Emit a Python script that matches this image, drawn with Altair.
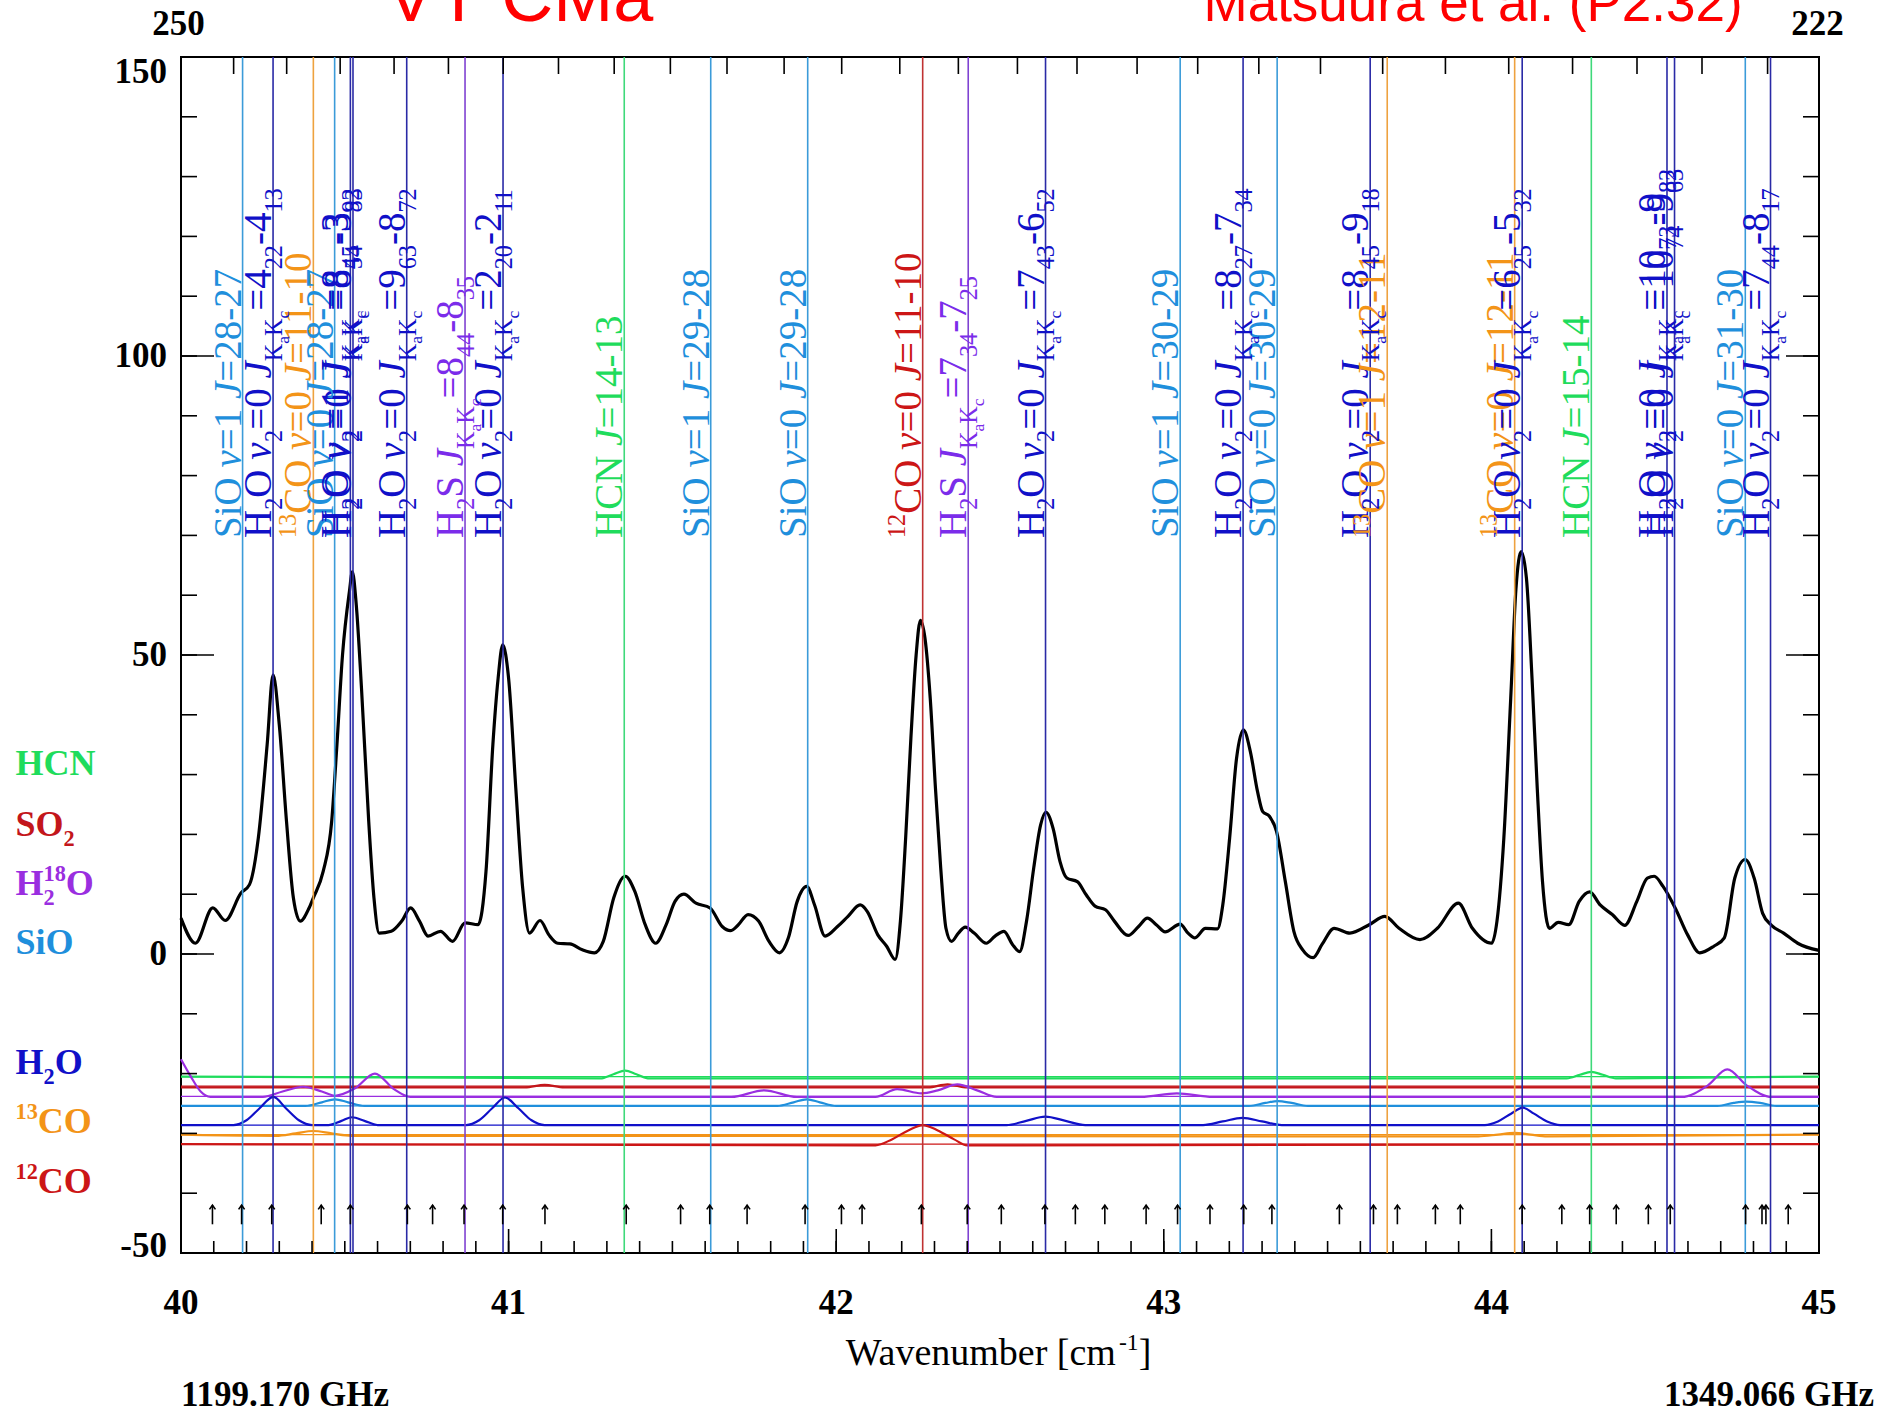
import altair as alt
import pandas as pd

# ---------------- data ----------------
spec_x = [40.000, 40.044, 40.097, 40.135, 40.183, 40.209, 40.236, 40.263, 40.281, 40.300,
          40.322, 40.343, 40.364, 40.391, 40.404, 40.434, 40.460, 40.476, 40.493, 40.514,
          40.523, 40.535, 40.551, 40.573, 40.589, 40.605, 40.642, 40.674, 40.701, 40.728,
          40.754, 40.792, 40.829, 40.867, 40.907, 40.931, 40.952, 40.968, 40.982, 41.000,
          41.022, 41.043, 41.064, 41.096, 41.123, 41.150, 41.187, 41.225, 41.262, 41.289,
          41.321, 41.356, 41.385, 41.417, 41.449, 41.481, 41.508, 41.535, 41.572, 41.615,
          41.652, 41.677, 41.700, 41.731, 41.763, 41.795, 41.827, 41.854, 41.881, 41.910,
          41.934, 41.966, 42.004, 42.036, 42.073, 42.095, 42.127, 42.154, 42.180, 42.196,
          42.212, 42.228, 42.244, 42.257, 42.271, 42.287, 42.303, 42.319, 42.335, 42.352,
          42.373, 42.394, 42.421, 42.458, 42.485, 42.512, 42.538, 42.560, 42.581, 42.603,
          42.624, 42.640, 42.662, 42.683, 42.704, 42.736, 42.763, 42.790, 42.822, 42.849,
          42.891, 42.923, 42.950, 42.977, 43.004, 43.050, 43.074, 43.095, 43.127, 43.164,
          43.180, 43.201, 43.222, 43.243, 43.264, 43.286, 43.302, 43.323, 43.344, 43.371,
          43.397, 43.424, 43.456, 43.483, 43.520, 43.568, 43.627, 43.675, 43.718, 43.782,
          43.835, 43.899, 43.942, 44.001, 44.017, 44.038, 44.059, 44.075, 44.091, 44.107,
          44.124, 44.140, 44.156, 44.177, 44.204, 44.236, 44.268, 44.300, 44.332, 44.369,
          44.407, 44.444, 44.476, 44.497, 44.524, 44.561, 44.599, 44.636, 44.679, 44.711,
          44.743, 44.775, 44.802, 44.828, 44.855, 44.892, 44.935, 45.000]
spec_y = [6.0, 1.8, 7.7, 5.6, 10.2, 11.6, 19.4, 35.0, 46.7, 38.3,
          22.2, 9.4, 5.5, 7.7, 9.4, 13.8, 22.2, 35.0, 50.0, 60.6,
          63.9, 58.4, 44.4, 22.2, 9.4, 3.5, 3.8, 5.5, 7.7, 5.5,
          3.0, 3.8, 2.1, 5.2, 4.9, 13.8, 35.0, 46.1, 51.7, 46.1,
          27.7, 11.0, 3.5, 5.6, 3.2, 1.8, 1.7, 0.7, 0.2, 2.1,
          9.4, 13.0, 10.5, 4.9, 1.8, 4.9, 8.8, 10.0, 8.5, 7.7,
          4.6, 3.9, 4.8, 6.6, 5.5, 2.1, 0.2, 2.7, 8.8, 11.3,
          8.2, 3.0, 4.6, 6.3, 8.2, 7.1, 3.2, 1.3, -0.9, 5.5,
          19.4, 36.1, 50.0, 55.8, 52.8, 42.8, 27.7, 14.4, 4.3, 2.1,
          3.5, 4.5, 3.5, 1.8, 3.0, 3.8, 1.6, 0.4, 5.5, 14.4,
          21.6, 23.7, 21.0, 15.5, 12.7, 12.1, 9.9, 8.0, 7.4, 5.5,
          3.1, 4.6, 6.0, 4.9, 3.7, 5.0, 3.5, 2.7, 4.3, 4.2,
          8.2, 19.4, 32.7, 37.5, 33.9, 27.2, 23.8, 23.0, 20.5, 12.1,
          3.8, 0.7, -0.6, 1.6, 4.3, 3.5, 4.9, 6.3, 4.3, 2.4,
          4.3, 8.5, 4.3, 1.8, 5.5, 19.4, 42.8, 61.1, 67.3, 62.8,
          46.1, 27.7, 12.1, 4.3, 5.3, 4.9, 8.8, 10.4, 8.2, 6.6,
          4.8, 8.8, 12.7, 13.0, 11.3, 7.7, 3.2, 0.2, 1.3, 2.7,
          12.7, 15.8, 12.7, 6.8, 4.8, 3.5, 1.8, 0.6]

# model spectra (offset below the data)
h2o_mx = [40.00, 40.16, 40.20, 40.24, 40.282, 40.32, 40.36, 40.40, 40.45, 40.49,
          40.522, 40.56, 40.60, 40.87, 40.91, 40.95, 40.989, 41.03, 41.07, 41.11,
          42.52, 42.58, 42.638, 42.70, 42.76, 43.12, 43.18, 43.24, 43.30, 43.36,
          43.98, 44.02, 44.06, 44.096, 44.13, 44.17, 44.21, 45.00]
h2o_my = [-28.6, -28.6, -27.8, -25.8, -23.9, -25.8, -27.8, -28.6, -28.6, -27.9,
          -27.3, -27.9, -28.6, -28.6, -27.8, -25.8, -24.0, -25.8, -27.8, -28.6,
          -28.6, -27.9, -27.2, -27.9, -28.6, -28.6, -28.0, -27.4, -28.0, -28.6,
          -28.6, -28.0, -26.7, -25.7, -26.7, -28.0, -28.6, -28.6]
h218o_mx = [40.00, 40.03, 40.06, 40.09, 40.25, 40.31, 40.373, 40.43, 40.47, 40.53,
            40.592, 40.65, 40.70, 41.68, 41.78, 41.88, 42.12, 42.186, 42.26, 42.31,
            42.37, 42.43, 42.49, 42.93, 43.04, 43.15, 44.58, 44.66, 44.72, 44.78,
            44.856, 45.00]
h218o_my = [-17.6, -20.5, -23.0, -23.9, -23.9, -23.0, -22.2, -23.0, -23.7, -22.5,
            -20.0, -22.6, -23.9, -23.9, -22.8, -23.9, -23.9, -22.6, -23.3, -22.8,
            -21.8, -22.8, -23.9, -23.9, -23.3, -23.9, -23.9, -22.0, -19.3, -22.0,
            -23.9, -23.9]
sio_mx = [40.00, 40.38, 40.43, 40.47, 40.51, 40.56, 41.82, 41.87, 41.91, 41.95, 42.00,
          43.26, 43.31, 43.348, 43.39, 43.44, 44.69, 44.74, 44.777, 44.82, 44.87, 45.00]
sio_my = [-25.4, -25.4, -24.8, -24.3, -24.8, -25.4, -25.4, -24.8, -24.3, -24.8, -25.4,
          -25.4, -24.9, -24.6, -24.9, -25.4, -25.4, -24.9, -24.7, -24.9, -25.4, -25.4]
hcn_mx = [40.00, 41.28, 41.32, 41.356, 41.39, 41.43, 44.23, 44.27, 44.305, 44.34, 44.38, 45.00]
hcn_my = [-20.5, -20.8, -20.1, -19.5, -20.1, -20.8, -20.8, -20.2, -19.7, -20.2, -20.8, -20.5]
so2_mx = [40.00, 41.05, 41.11, 41.17, 42.28, 42.34, 42.40, 45.00]
so2_my = [-22.3, -22.3, -21.9, -22.3, -22.3, -21.8, -22.3, -22.3]
co13_mx = [40.00, 40.29, 40.35, 40.403, 40.46, 40.52, 43.96, 44.02, 44.07, 44.12, 44.17, 45.00]
co13_my = [-30.2, -30.4, -30.0, -29.6, -30.0, -30.4, -30.5, -30.2, -29.9, -30.2, -30.5, -30.2]
co12_mx = [40.00, 42.12, 42.17, 42.22, 42.264, 42.31, 42.36, 42.40, 45.00]
co12_my = [-31.8, -32.0, -31.0, -29.5, -28.6, -29.5, -31.0, -32.0, -31.8]
model_base = {"HCN": -20.5, "SO2": -22.1, "H218O": -23.8, "SiO": -25.4,
              "H2O": -28.6, "13CO": -30.2, "12CO": -31.8}

# identified lines
line_x = [40.188, 40.281, 40.404, 40.469, 40.517, 40.525, 40.689, 40.867, 40.983, 41.353,
          41.617, 41.913, 42.264, 42.403, 42.639, 43.050, 43.242, 43.346, 43.630, 43.682,
          44.071, 44.094, 44.305, 44.536, 44.559, 44.775, 44.852]
line_mol = ["SiO", "H2O", "13CO", "SiO", "H2O", "H2O", "H2O", "H2S", "H2O", "HCN",
            "SiO", "SiO", "12CO", "H2S", "H2O", "SiO", "H2O", "SiO", "H2O", "13CO",
            "13CO", "H2O", "HCN", "H2O", "H2O", "SiO", "H2O"]
line_label = [
    "SiO v=1 J=28-27",
    "H_2O ν_2=0 J_{K_aK_c}=4_{22}-4_{13}",
    "^{13}CO v=0 J=11-10",
    "SiO v=0 J=28-27",
    "H_2O ν_2=1 J_{K_aK_c}=8_{45}-3_{92}",
    "H_2O ν_2=0 J_{K_aK_c}=8_{54}-3_{83}",
    "H_2O ν_2=0 J_{K_aK_c}=9_{63}-8_{72}",
    "H_2S J_{K_aK_c}=8_{44}-8_{35}",
    "H_2O ν_2=0 J_{K_aK_c}=2_{20}-2_{11}",
    "HCN J=14-13",
    "SiO v=1 J=29-28",
    "SiO v=0 J=29-28",
    "^{12}CO v=0 J=11-10",
    "H_2S J_{K_aK_c}=7_{34}-7_{25}",
    "H_2O ν_2=0 J_{K_aK_c}=7_{43}-6_{52}",
    "SiO v=1 J=30-29",
    "H_2O ν_2=0 J_{K_aK_c}=8_{27}-7_{34}",
    "SiO v=0 J=30-29",
    "H_2O ν_2=0 J_{K_aK_c}=8_{45}-9_{18}",
    "^{13}CO v=1 J=12-11",
    "^{13}CO v=0 J=12-11",
    "H_2O ν_2=0 J_{K_aK_c}=6_{25}-5_{32}",
    "HCN J=15-14",
    "H_2O ν_2=0 J_{K_aK_c}=10_{73}-9_{82}",
    "H_2O ν_2=0 J_{K_aK_c}=10_{74}-9_{63}",
    "SiO v=0 J=31-30",
    "H_2O ν_2=0 J_{K_aK_c}=7_{44}-8_{17}",
]

arrow_x = [40.096, 40.185, 40.277, 40.428, 40.517, 40.691, 40.768, 40.864, 40.982, 41.111,
           41.359, 41.525, 41.614, 41.728, 41.905, 42.016, 42.079, 42.260, 42.400, 42.504,
           42.637, 42.730, 42.820, 42.946, 43.042, 43.141, 43.244, 43.330, 43.536, 43.640,
           43.713, 43.829, 43.905, 44.094, 44.215, 44.300, 44.381, 44.479, 44.546, 44.776,
           44.826, 44.838, 44.906]

legend_text = ["HCN", "SO_2", "H_2^{18}O", "SiO", "H_2O", "^{13}CO", "^{12}CO"]
legend_mol = ["HCN", "SO2", "H218O", "SiO", "H2O", "13CO", "12CO"]

x_major = [40, 41, 42, 43, 44, 45]
y_major = [-50, 0, 50, 100, 150]
y_minor = list(range(-50, 151, 10))
x_minor = [round(40 + 0.1 * i, 1) for i in range(51)]
wl_ticks = list(range(223, 250))  # top axis: wavelength in micron

COL = {"HCN": "#1fdc5c", "SO2": "#c3161b", "H218O": "#9a2ee0", "SiO": "#1f8fdc",
       "H2O": "#1010c8", "13CO": "#f39418", "12CO": "#cc1616", "H2S": "#7b2cea"}
LCOL = {"HCN": "#3fd97a", "SiO": "#3b9bd9", "H2O": "#2a2aa6", "13CO": "#eea23f",
        "12CO": "#c03232", "H2S": "#7f42d2"}

# ---------------- geometry ----------------
W, H = 1638, 1196
XSC = alt.Scale(domain=[40, 45], nice=False, zero=False)
YSC = alt.Scale(domain=[-50, 150], nice=False, zero=False)
PXX = W / 5.0
PXY = H / 200.0
SERIF = "Liberation Serif"
SANS = "Liberation Sans"


def px2x(px):
    return 40 + px / PXX


def px2y(py):
    return 150 - py / PXY


def X(f):
    return alt.X(f + ":Q", scale=XSC, axis=None)


def Y(f):
    return alt.Y(f + ":Q", scale=YSC, axis=None)


# ---------------- tiny rich-text layout ----------------
WREG = {" ": .25, "=": .564, "-": .333, ".": .25, "[": .333, "]": .333, "S": .556, "i": .278,
        "O": .722, "H": .722, "C": .667, "N": .722, "K": .722, "J": .389, "a": .444, "c": .444,
        "v": .5, "ν": .5, "W": .944, "e": .444, "n": .5, "u": .5, "m": .778, "b": .5, "r": .333}
WITA = {"v": .444, "J": .444, "ν": .46}
WBOLD = {"H": .778, "C": .722, "N": .722, "O": .778, "S": .556, "i": .278}
SC = {"n": 1.0, "i": 1.0, "sub": .62, "sup": .62, "subsub": .45}
DY = {"n": 0.0, "i": 0.0, "sub": .28, "sup": -.40, "subsub": .45}


def parse(markup, ital):
    def group(s, i):
        if s[i] == "{":
            d, j = 1, i + 1
            while d:
                if s[j] == "{":
                    d += 1
                elif s[j] == "}":
                    d -= 1
                j += 1
            return s[i + 1:j - 1], j
        return s[i], i + 1

    def rec(s, lvl):
        res, buf, i = [], "", 0
        while i < len(s):
            c = s[i]
            if c in "_^":
                if buf:
                    res.append((buf, lvl))
                    buf = ""
                g, i = group(s, i + 1)
                nl = ("sub" if lvl == "n" else "subsub") if c == "_" else "sup"
                res.extend(rec(g, nl))
            else:
                buf += c
                i += 1
        if buf:
            res.append((buf, lvl))
        return res

    out = []
    for t, lvl in rec(markup, "n"):
        if lvl != "n":
            out.append((t, lvl))
            continue
        cur, cs = "", None
        for ch in t:
            st = "i" if ch in ital else "n"
            if cur and st != cs:
                out.append((cur, cs))
                cur = ""
            cur += ch
            cs = st
        if cur:
            out.append((cur, cs))
    return out


def cw(ch, st, bold):
    if st == "i":
        return WITA.get(ch, WREG.get(ch, .5))
    if bold:
        return WBOLD.get(ch, WREG.get(ch, .5))
    return WREG.get(ch, .5)


def layout(markup, F, bold=False, ital=""):
    segs, pos, prev = [], 0.0, None
    for t, st in parse(markup, ital):
        w = sum(cw(ch, st, bold) for ch in t) * F * SC[st]
        if st == "sup" and prev is not None and prev[0] == "sub":
            start = prev[1]
            pos = max(pos, start + w)
        else:
            start = pos
            pos = start + w
        segs.append((start, t, st))
        prev = (st, start)
    return segs, pos


def text_layers(df, F, weight, angle, base_dy=0.0):
    out = []
    for st in ["n", "i", "sub", "sup", "subsub"]:
        d = df[df["style"] == st]
        if d.empty:
            continue
        out.append(alt.Chart(d).mark_text(
            font=SERIF, fontSize=round(F * SC[st], 1),
            fontStyle="italic" if st == "i" else "normal", fontWeight=weight,
            angle=angle, align="left", baseline="alphabetic", dy=DY[st] * F + base_dy
        ).encode(x=X("x"), y=Y("y"), text="text:N", color=alt.Color("color:N", scale=None)))
    return out


layers = []

# ---------------- model spectra ----------------
models = [("HCN", hcn_mx, hcn_my), ("SO2", so2_mx, so2_my), ("H218O", h218o_mx, h218o_my),
          ("SiO", sio_mx, sio_my), ("H2O", h2o_mx, h2o_my), ("13CO", co13_mx, co13_my),
          ("12CO", co12_mx, co12_my)]
mrows = []
for mol, xs, ys in models:
    for a, b in zip(xs, ys):
        mrows.append({"x": a, "y": b, "mol": mol, "color": COL[mol]})
mdf = pd.DataFrame(mrows)
bdf = pd.DataFrame({"y": list(model_base.values()), "color": [COL[m] for m in model_base]})
layers.append(alt.Chart(bdf).mark_rule(strokeWidth=1.2).encode(
    y=Y("y"), x=alt.value(0), x2=alt.value(W), color=alt.Color("color:N", scale=None)))
layers.append(alt.Chart(mdf).mark_line(strokeWidth=2.2, interpolate="monotone").encode(
    x=X("x"), y=Y("y"), detail="mol:N", color=alt.Color("color:N", scale=None)))

# ---------------- observed spectrum ----------------
sdf = pd.DataFrame({"x": spec_x, "y": spec_y})
layers.append(alt.Chart(sdf).mark_line(color="black", strokeWidth=3.2, interpolate="monotone").encode(
    x=X("x"), y=Y("y")))

# ---------------- line markers ----------------
ldf = pd.DataFrame({"x": line_x, "lc": [LCOL[m] for m in line_mol]})
layers.append(alt.Chart(ldf).mark_rule(strokeWidth=1.6).encode(
    x=X("x"), y=alt.value(0), y2=alt.value(H), color=alt.Color("lc:N", scale=None)))

# ---------------- arrows ----------------
adf = pd.DataFrame({"x": arrow_x, "lo": [-45.2] * len(arrow_x), "hi": [-42.0] * len(arrow_x)})
layers.append(alt.Chart(adf).mark_rule(color="black", strokeWidth=1.6).encode(
    x=X("x"), y=Y("lo"), y2="hi:Q"))
layers.append(alt.Chart(adf).mark_point(shape="M-1,1.4L0,0L1,1.4", size=36, filled=False,
                                        color="black", strokeWidth=1.6, opacity=1).encode(
    x=X("x"), y=Y("hi")))

# ---------------- rotated line labels ----------------
FL = 39
Y0 = px2y(481)
rows = []
for lx, mol, lab in zip(line_x, line_mol, line_label):
    segs, _ = layout(lab, FL, bold=False, ital="vνJ")
    for off, t, st in segs:
        rows.append({"x": lx, "y": Y0 + off / PXY, "text": t, "style": st, "color": COL[mol]})
layers += text_layers(pd.DataFrame(rows), FL, "normal", 270, base_dy=-2)

# ---------------- legend at left ----------------
FLEG = 36
leg_base_px = [718, 779, 838, 897, 1017, 1076, 1136]
rows = []
for mk, mol, bpx in zip(legend_text, legend_mol, leg_base_px):
    segs, _ = layout(mk, FLEG, bold=True)
    for off, t, st in segs:
        rows.append({"x": px2x(-165.5 + off), "y": px2y(bpx), "text": t, "style": st,
                     "color": COL[mol]})
layers += text_layers(pd.DataFrame(rows), FLEG, "bold", 0)

# ---------------- x axis title ----------------
FT = 38
segs, tot = layout("Wavenumber [cm^{-1}]", FT)
start = 817.5 - tot / 2
rows = [{"x": px2x(start + off), "y": px2y(1308), "text": t, "style": st, "color": "black"}
        for off, t, st in segs]
layers += text_layers(pd.DataFrame(rows), FT, "normal", 0)

# ---------------- ticks ----------------
ymin_df = pd.DataFrame({"v": y_minor})
ymaj_df = pd.DataFrame({"v": y_major})
xmin_df = pd.DataFrame({"v": x_minor})
xmaj_df = pd.DataFrame({"v": x_major})
top_df = pd.DataFrame({"v": [1e4 / w for w in wl_ticks]})
TK = dict(color="black", strokeWidth=1.6)
layers += [
    alt.Chart(ymin_df).mark_rule(**TK).encode(y=Y("v"), x=alt.value(0), x2=alt.value(16)),
    alt.Chart(ymaj_df).mark_rule(**TK).encode(y=Y("v"), x=alt.value(0), x2=alt.value(33)),
    alt.Chart(ymin_df).mark_rule(**TK).encode(y=Y("v"), x=alt.value(W - 16), x2=alt.value(W)),
    alt.Chart(ymaj_df).mark_rule(**TK).encode(y=Y("v"), x=alt.value(W - 33), x2=alt.value(W)),
    alt.Chart(xmin_df).mark_rule(**TK).encode(x=X("v"), y=alt.value(H - 12), y2=alt.value(H)),
    alt.Chart(xmaj_df).mark_rule(**TK).encode(x=X("v"), y=alt.value(H - 24), y2=alt.value(H)),
    alt.Chart(top_df).mark_rule(**TK).encode(x=X("v"), y=alt.value(0), y2=alt.value(17)),
]

# ---------------- tick labels ----------------
YL = dict(font=SERIF, fontSize=35, fontWeight="bold", align="right", baseline="middle",
          color="black")
ymid = [v for v in y_major if v not in (150, -50)]
layers.append(alt.Chart(pd.DataFrame({"v": ymid, "t": [str(v) for v in ymid]})).mark_text(
    **YL).encode(y=Y("v"), x=alt.value(-14), text="t:N"))
layers.append(alt.Chart(pd.DataFrame({"v": [150], "t": ["150"]})).mark_text(
    dy=15, **YL).encode(y=Y("v"), x=alt.value(-14), text="t:N"))
layers.append(alt.Chart(pd.DataFrame({"v": [-50], "t": ["-50"]})).mark_text(
    dy=-7, **YL).encode(y=Y("v"), x=alt.value(-14), text="t:N"))
layers.append(alt.Chart(pd.DataFrame({"v": x_major, "t": [str(v) for v in x_major]})).mark_text(
    font=SERIF, fontSize=35, fontWeight="bold", align="center", baseline="middle", color="black"
).encode(x=X("v"), y=alt.value(1246), text="t:N"))

# top axis end labels (wavelength, micron)
layers.append(alt.Chart(pd.DataFrame({"t": ["250"]})).mark_text(
    font=SERIF, fontSize=35, fontWeight="bold", align="center", baseline="middle", color="black"
).encode(x=alt.value(-2.5), y=alt.value(-33), text="t:N"))
layers.append(alt.Chart(pd.DataFrame({"t": ["222"]})).mark_text(
    font=SERIF, fontSize=35, fontWeight="bold", align="center", baseline="middle", color="black"
).encode(x=alt.value(1636.5), y=alt.value(-33), text="t:N"))

# frequency range labels
layers.append(alt.Chart(pd.DataFrame({"t": ["1199.170 GHz"]})).mark_text(
    font=SERIF, fontSize=35, fontWeight="bold", align="left", baseline="alphabetic", color="black"
).encode(x=alt.value(0), y=alt.value(1349), text="t:N"))
layers.append(alt.Chart(pd.DataFrame({"t": ["1349.066 GHz"]})).mark_text(
    font=SERIF, fontSize=35, fontWeight="bold", align="right", baseline="alphabetic", color="black"
).encode(x=alt.value(1693), y=alt.value(1349), text="t:N"))

# ---------------- titles (cut at top edge, as in the reference) ----------------
layers.append(alt.Chart(pd.DataFrame({"t": ["VY CMa"]})).mark_text(
    font=SANS, fontSize=72, align="left", baseline="alphabetic", color="#ff0000"
).encode(x=alt.value(205.5), y=alt.value(-36), text="t:N"))
layers.append(alt.Chart(pd.DataFrame({"t": ["Matsuura et al. (P2.32)"]})).mark_text(
    font=SANS, fontSize=53, align="left", baseline="alphabetic", color="#ff0000"
).encode(x=alt.value(1022.5), y=alt.value(-36), text="t:N"))

chart = alt.layer(*layers).properties(
    width=W, height=H,
    padding={"left": 181, "top": 57, "right": 78, "bottom": 163},
    autosize=alt.AutoSizeParams(type="none"),
    background="white",
).configure_view(stroke="black", strokeWidth=2)

chart.save("out.html", embed_options={"renderer": "svg", "actions": False})
